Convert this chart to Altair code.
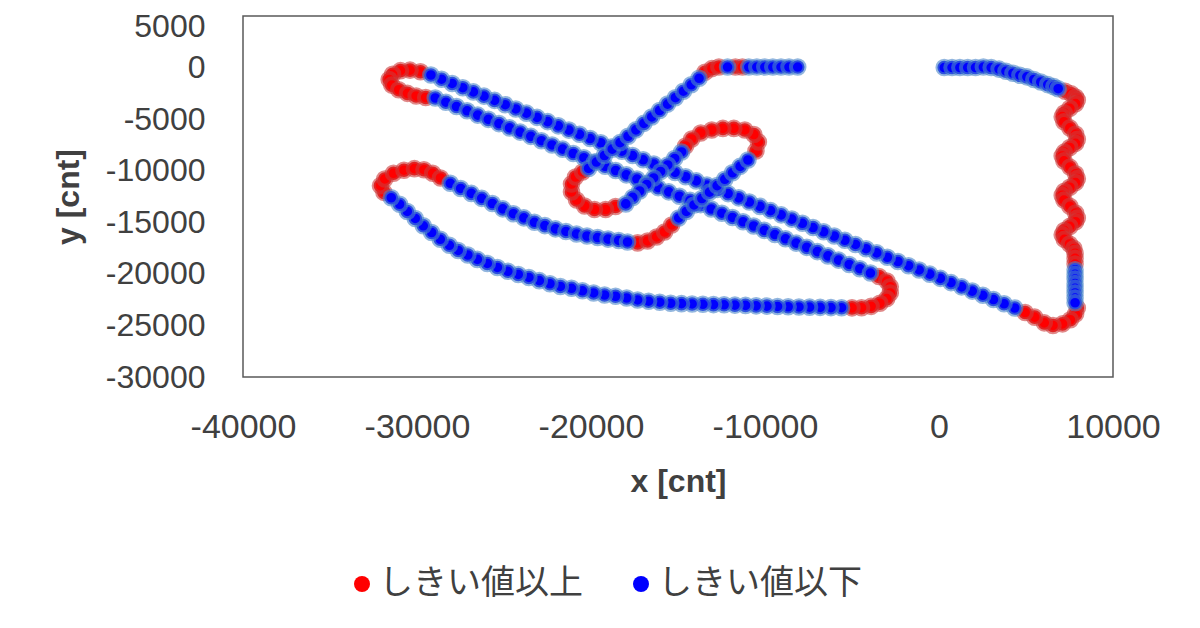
import altair as alt
import pandas as pd

LABEL_ABOVE = "しきい値以上"
LABEL_BELOW = "しきい値以下"
X_TICKS = [-40000, -30000, -20000, -10000, 0, 10000]
Y_TICKS = [5000, 0, -5000, -10000, -15000, -20000, -25000, -30000]

# ---- points above threshold (red), in path order ----
RED_X = [
    7250, 7600, 7850, 7950, 7850, 7520, 7200, 7080, 7180, 7520, 7850, 7950, 7850, 7520, 7200, 7080,
    7180, 7520, 7850, 7950, 7850, 7520, 7200, 7080, 7180, 7520, 7850, 7950, 7850, 7520, 7200, 7080,
    7200, 7500, 7750, 7820, 7820, 7820,
    7950, 7850, 7550, 7100, 6550, 6050, 5500, 4950,
    -29800, -30400, -30950, -31400, -31600, -31450, -31050, -30550, -30050, -29500,
    -3450, -3000, -2800, -2800, -3000, -3400, -3900, -4450, -5000,
    -31900, -32100, -31850, -31350, -30750, -30150, -29600, -29100, -28650,
    -17320, -16750, -16230, -15770, -15360,
    -10520, -10380, -10640, -11160, -11790, -12420, -13060, -13690, -14210, -14560,
    -18590, -19160, -19800, -20370, -20830, -21120, -21120, -20890, -20490,
    -13450, -13050, -12650,
    -11700, -11300,
]
RED_Y = [
    -2300, -2550, -2850, -3150, -3500, -3950, -4400, -4760, -5250, -5850, -6450, -6950, -7350, -7750, -8200, -8570,
    -9050, -9650, -10300, -10770, -11150, -11600, -12000, -12380, -12850, -13450, -14100, -14580, -14950, -15400, -15800, -16200,
    -16650, -17100, -17550, -18000, -18500, -19050,
    -23300, -23900, -24450, -24850, -25000, -24750, -24200, -23750,
    -400, -250, -300, -650, -1150, -1700, -2150, -2500, -2750, -2900,
    -20250, -20700, -21250, -21850, -22400, -22850, -23150, -23280, -23300,
    -12100, -11450, -10800, -10250, -9950, -9800, -9900, -10250, -10700,
    -17000, -16810, -16420, -15940, -15260,
    -8090, -7210, -6490, -6050, -5900, -5900, -6050, -6340, -6920, -7600,
    -13470, -13760, -13760, -13420, -12840, -12060, -11290, -10610, -10120,
    -450, -100, 50,
    50, 50,
]

# ---- points below threshold (blue), in path order ----
BLUE_X = [
    300, 750, 1200, 1650, 2100, 2550, 3000, 3450, 3850, 4250, 4650, 5050, 5450, 5850, 6250, 6600, 6850,
    7820, 7820, 7820, 7820, 7820, 7820, 7820, 7820,
    4350, 3740, 3130, 2520, 1910, 1300, 690, 80, -530, -1140, -1750, -2360, -2970, -3580, -4190, -4800,
    -5410, -6020, -6630, -7240, -7850, -8460, -9070, -9680, -10290, -10900, -11510, -12120, -12730, -13340,
    -13950, -14560, -15170, -15780, -16390, -17000, -17610, -18220, -18830, -19440, -20050, -20660, -21270,
    -21880, -22490, -23100, -23710, -24320, -24930, -25540, -26150, -26760, -27370, -27980, -28590, -29200,
    -28950, -28340, -27730, -27120, -26510, -25900, -25290, -24680, -24070, -23460, -22850, -22240, -21630,
    -21020, -20410, -19800, -19190, -18580, -17970, -17360, -16750, -16140, -15530, -14920, -14310, -13700,
    -13090, -12480, -11870, -11260, -10650, -10040, -9430, -8820, -8210, -7600, -6990, -6380, -5770, -5160,
    -4550, -3940,
    -5600, -6210, -6830, -7440, -8050, -8670, -9280, -9890, -10510, -11120, -11730, -12350, -12960, -13570,
    -14190, -14800, -15420, -16050, -16690, -17320, -17950, -18590, -19220, -19850, -20490, -21120, -21760,
    -22360, -22970, -23570, -24180, -24780, -25380, -25960, -26530, -27080, -27630, -28140, -28660, -29160,
    -29640, -30100, -30560, -31000, -31480,
    -28090, -27490, -26880, -26280, -25670, -25070, -24460, -23860, -23250, -22650, -22040, -21440, -20830,
    -20230, -19620, -19020, -18410, -17900,
    -14960, -14520, -14080, -13630, -13190, -12750, -12310, -11870, -11430, -10980,
    -14790, -15190, -15590, -16000, -16400, -16800, -17200, -17600, -18000,
    -20140, -19690, -19230, -18780, -18330, -17870, -17420, -16960, -16510, -16060, -15600, -15150, -14690,
    -14240, -13790,
    -12150,
    -10930, -10470, -10010, -9550, -9080, -8620, -8120,
]
BLUE_Y = [
    0, 0, 0, 0, 0, 50, 0, -150, -350, -550, -750, -900, -1150, -1400, -1650, -1850, -2050,
    -19600, -20050, -20500, -20950, -21400, -21850, -22350, -22800,
    -23310, -22900, -22490, -22080, -21670, -21260, -20850, -20440, -20030, -19620, -19210, -18800, -18390,
    -17970, -17560, -17150, -16740, -16330, -15920, -15510, -15100, -14690, -14280, -13870, -13460, -13040,
    -12630, -12220, -11810, -11400, -10990, -10580, -10170, -9760, -9350, -8940, -8530, -8110, -7700, -7290,
    -6880, -6470, -6060, -5650, -5240, -4830, -4420, -4010, -3600, -3180, -2770, -2360, -1950, -1540, -1130,
    -720,
    -2950, -3360, -3780, -4190, -4610, -5020, -5430, -5850, -6260, -6670, -7090, -7500, -7910, -8330, -8740,
    -9160, -9570, -9980, -10400, -10810, -11220, -11640, -12050, -12470, -12880, -13290, -13710, -14120,
    -14530, -14950, -15360, -15780, -16190, -16600, -17020, -17430, -17840, -18260, -18670, -19090, -19500,
    -19920,
    -23280, -23270, -23250, -23230, -23210, -23190, -23160, -23130, -23100, -23060, -23030, -23000, -22980,
    -22950, -22920, -22890, -22850, -22750, -22650, -22530, -22340, -22170, -22050, -21850, -21640, -21400,
    -21220, -20960, -20660, -20350, -20060, -19750, -19380, -18990, -18600, -18170, -17730, -17230, -16650,
    -15990, -15340, -14630, -13950, -13250, -12620,
    -11220, -11720, -12200, -12680, -13180, -13700, -14170, -14570, -15000, -15320, -15640, -15890, -16130,
    -16330, -16480, -16630, -16760, -16910,
    -14580, -13950, -13320, -12700, -12080, -11450, -10830, -10200, -9580, -8960,
    -8180, -8810, -9440, -10070, -10700, -11330, -11960, -12590, -13220,
    -9780, -9160, -8530, -7910, -7280, -6660, -6040, -5410, -4790, -4160, -3540, -2920, -2290, -1670, -1040,
    50,
    50, 50, 50, 50, 50, 50, 50,
]

rows = [{"x": x, "y": y, "s": LABEL_ABOVE} for x, y in zip(RED_X, RED_Y)]
rows += [{"x": x, "y": y, "s": LABEL_BELOW} for x, y in zip(BLUE_X, BLUE_Y)]
df = pd.DataFrame(rows)

FONT = "Liberation Sans"
TXT = "#404040"

chart = (
    alt.Chart(df)
    .mark_point(filled=True, size=185, strokeWidth=4, strokeOpacity=0.6, opacity=1, fillOpacity=1)
    .encode(
        x=alt.X(
            "x:Q",
            scale=alt.Scale(domain=[-40000, 10000], nice=False, zero=False),
            axis=alt.Axis(values=X_TICKS, title="x [cnt]", labelExpr="datum.value + ''",
                          labelFlush=False, labelOverlap=False, labelFontSize=34,
                          labelPadding=33, titlePadding=22),
        ),
        y=alt.Y(
            "y:Q",
            scale=alt.Scale(domain=[-30000, 5000], nice=False, zero=False),
            axis=alt.Axis(values=Y_TICKS, title="y [cnt]", labelExpr="datum.value + ''",
                          labelFlush=False, labelOverlap=False, labelFontSize=32,
                          labelOffset={"condition": {"test": "datum.value == 5000", "value": 10}, "value": 0},
                          labelPadding=38, titlePadding=20),
        ),
        fill=alt.Fill(
            "s:N",
            scale=alt.Scale(domain=[LABEL_ABOVE, LABEL_BELOW], range=["#ff0000", "#0000ff"]),
            legend=alt.Legend(
                title=None, orient="none", legendX=102, legendY=551, direction="horizontal",
                symbolType="circle", symbolSize=256, symbolStrokeWidth=0, symbolOpacity=1,
                labelFont="Noto Sans CJK JP", labelFontSize=34, labelColor=TXT, labelLimit=0,
                labelOffset=0, columnPadding=41,
            ),
        ),
        stroke=alt.Stroke(
            "s:N",
            scale=alt.Scale(domain=[LABEL_ABOVE, LABEL_BELOW], range=["#cc3b3b", "#4a86c8"]),
            legend=None,
        ),
    )
    .properties(
        width=870,
        height=361,
        autosize="none",
        padding={"left": 235, "top": 8, "right": 79, "bottom": 243},
        background="white",
    )
    .configure_view(stroke="#5a5a5a", strokeWidth=1.5)
    .configure_axis(
        grid=False, ticks=False, tickSize=0, domain=False,
        labelFont=FONT, labelColor=TXT,
        titleFont=FONT, titleFontSize=32, titleFontWeight="bold", titleColor=TXT,
    )
)

chart.save("out.html", embed_options={"renderer": "svg", "actions": False})
